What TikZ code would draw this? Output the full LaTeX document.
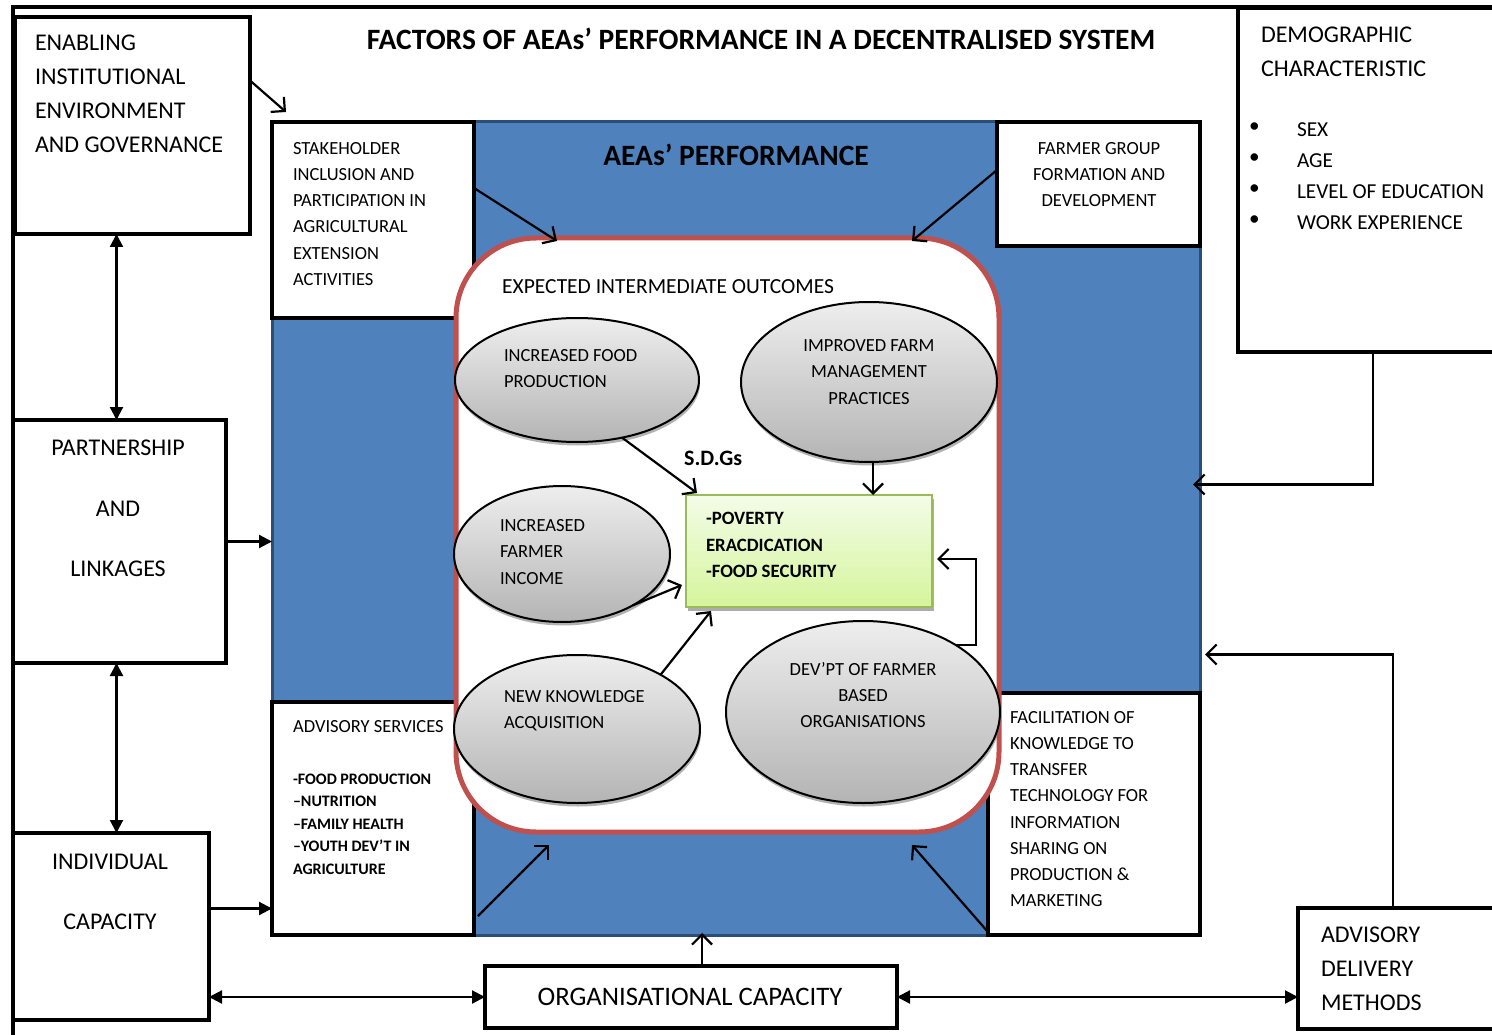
\documentclass[tikz,border=0pt]{standalone}
\usepackage{fontspec}
\setmainfont{Carlito}
\usetikzlibrary{arrows.meta,shapes.geometric,shadows}

\definecolor{blueF}{HTML}{4F81BD}
\definecolor{blueD}{HTML}{2C4D75}
\definecolor{redR}{HTML}{C0504D}
\definecolor{elTop}{HTML}{EEEEEE}
\definecolor{elBot}{HTML}{B4B4B4}
\definecolor{grTop}{HTML}{F3FCE8}
\definecolor{grBot}{HTML}{D5F59C}
\definecolor{grB}{HTML}{9BBB59}

\newcommand{\fs}[2]{\fontsize{#1}{#2}\selectfont}

\begin{document}
\begin{tikzpicture}[x=1pt,y=-1pt,
  box/.style={draw=black, line width=4.5pt, fill=white, anchor=north west, inner sep=0pt, outer sep=0pt},
  ell/.style={ellipse, draw=black, line width=2pt, top color=elTop, bottom color=elBot,
    inner sep=0pt, outer sep=0pt,
    drop shadow={shadow xshift=1pt, shadow yshift=-3.5pt, fill=black!50, opacity=0.6}},
  t/.style={anchor=north west, inner sep=0pt, outer sep=0pt, align=left},
  tc/.style={anchor=north, inner sep=0pt, outer sep=0pt, align=center},
  conn/.style={line width=2.2pt, draw=black},
  barb/.style={conn, -{Straight Barb[length=10pt,width=20pt]}},
  tri/.style={conn, -{Triangle[length=13pt,width=13pt]}},
  tri2/.style={conn, {Triangle[length=13pt,width=13pt]}-{Triangle[length=13pt,width=13pt]}},
]
\useasboundingbox (0,0) rectangle (1492,1035);
\fill[white] (0,0) rectangle (1492,1035);

% outer frame
\draw[line width=4pt] (13,1040) -- (13,7.5) -- (1500,7.5);

% title
\node[font=\fs{29.5}{32}\bfseries] (title) at (761,39)
  {FACTORS OF AEAs’ PERFORMANCE IN A DECENTRALISED SYSTEM};

% left column and bottom boxes
\node[box, minimum width=235pt, minimum height=217pt] (enab) at (15,17) {};
\node[box, minimum width=213pt, minimum height=243pt] (part) at (13,420) {};
\node[box, minimum width=196pt, minimum height=187pt] (indiv) at (13,833) {};
\node[box, minimum width=412pt, minimum height=62pt] (org) at (485,966) {};
\node[box, minimum width=260pt, minimum height=121pt] (adm) at (1298,908) {};
\node[box, minimum width=270pt, minimum height=344pt] (demo) at (1238,8) {};

% performance area
\node[fill=blueF, draw=blueD, line width=3pt, anchor=north west, inner sep=0pt, outer sep=0pt,
  minimum width=928pt, minimum height=813pt] (perf) at (272,122) {};
\node[box, minimum width=202pt, minimum height=196pt] (stake) at (272,122) {};
\node[box, minimum width=203pt, minimum height=124pt] (farm) at (997,122) {};
\node[box, minimum width=202pt, minimum height=233pt] (advs) at (272,702) {};
\node[box, minimum width=212pt, minimum height=242pt] (facil) at (988,693) {};
\node[font=\fs{29.5}{32}\bfseries] (perftitle) at (736,155) {AEAs’ PERFORMANCE};

% intermediate outcomes panel
\node[draw=redR, line width=5pt, fill=white, rounded corners=80pt, anchor=north west,
  inner sep=0pt, outer sep=0pt, minimum width=543pt, minimum height=594pt] (outc) at (456,238) {};

\node[ell, minimum width=244pt, minimum height=124pt] (ifp) at (577,380) {};
\node[ell, minimum width=256pt, minimum height=160pt] (ifm) at (869,382) {};
\node[ell, minimum width=216pt, minimum height=136pt] (inc) at (562,554) {};
\node[ell, minimum width=246pt, minimum height=148pt] (nka) at (577,729) {};
\node[ell, minimum width=274pt, minimum height=182pt] (dfbo) at (863,712) {};

\node[draw=grB, line width=2.5pt, top color=grTop, bottom color=grBot, anchor=north west,
  inner sep=0pt, outer sep=0pt, minimum width=246pt, minimum height=112pt,
  drop shadow={shadow xshift=1.5pt, shadow yshift=-4pt, fill=black!40, opacity=0.8}] (green) at (686,495) {};

% texts
\node[t, font=\fs{24}{34}] (enabT) at (35,35.4)
  {ENABLING\\INSTITUTIONAL\\ENVIRONMENT\\AND GOVERNANCE};
\node[t, font=\fs{24}{34}] (demoT) at (1261,27.4) {DEMOGRAPHIC\\CHARACTERISTIC};
\node[t, font=\fs{21.3}{31}] (demoB) at (1249,122.3) {•\\•\\•\\•};
\node[t, font=\fs{21.3}{31}] (demoL) at (1297,122.3) {SEX\\AGE\\LEVEL OF EDUCATION\\WORK EXPERIENCE};
\node[t, font=\fs{18.5}{26.2}] (stakeT) at (293,142.2)
  {STAKEHOLDER\\INCLUSION AND\\PARTICIPATION IN\\AGRICULTURAL\\EXTENSION\\ACTIVITIES};
\node[tc, font=\fs{18.5}{26}] (farmT) at (1099,142.2)
  {FARMER GROUP\\FORMATION AND\\DEVELOPMENT};
\node[anchor=west, inner sep=0pt, font=\fs{21.5}{26}] (outcT) at (502,287) {EXPECTED INTERMEDIATE OUTCOMES};
\node[t, font=\fs{18.5}{26}] (ifpT) at (504,349.2) {INCREASED FOOD\\PRODUCTION};
\node[tc, font=\fs{18.5}{26.5}] (ifmT) at (869,339.2) {IMPROVED FARM\\MANAGEMENT\\PRACTICES};
\node[anchor=west, inner sep=0pt, font=\fs{22}{24}\bfseries] (sdg) at (684,458) {S.D.Gs};
\node[t, font=\fs{18.8}{26.5}\bfseries] (greenT) at (706,512.2) {-POVERTY\\ERACDICATION\\-FOOD SECURITY};
\node[t, font=\fs{18.5}{26.5}] (incT) at (500,519.2) {INCREASED\\FARMER\\INCOME};
\node[t, font=\fs{18.5}{26}] (nkaT) at (504,690.2) {NEW KNOWLEDGE\\ACQUISITION};
\node[tc, font=\fs{18.5}{26}] (dfboT) at (863,662.2) {DEV’PT OF FARMER\\BASED\\ORGANISATIONS};
\node[anchor=west, inner sep=0pt, font=\fs{18.5}{26}] (advsT) at (293,727) {ADVISORY SERVICES};
\node[t, font=\fs{16}{22.5}\bfseries] (advsL) at (293,774)
  {-FOOD PRODUCTION\\–NUTRITION\\–FAMILY HEALTH\\–YOUTH DEV’T IN\\AGRICULTURE};
\node[t, font=\fs{18.5}{26.2}] (facilT) at (1010,711.2)
  {FACILITATION OF\\KNOWLEDGE TO\\TRANSFER\\TECHNOLOGY FOR\\INFORMATION\\SHARING ON\\PRODUCTION \&\\MARKETING};
\node[tc, font=\fs{24}{60.5}] (partT) at (118,440.4) {PARTNERSHIP\\AND\\LINKAGES};
\node[tc, font=\fs{24}{60}] (indivT) at (110,854.4) {INDIVIDUAL\\CAPACITY};
\node[font=\fs{26.7}{30}, inner sep=0pt] (orgT) at (690,997) {ORGANISATIONAL CAPACITY};
\node[t, font=\fs{24}{34}] (admT) at (1321,927.4) {ADVISORY\\DELIVERY\\METHODS};

% helper points on the boxes
\coordinate (pn) at ([xshift=-3pt]part.north);
\coordinate (ps) at ([xshift=-3pt]part.south);
\coordinate (indo) at ([yshift=18pt]indiv.east);
\coordinate (orgtop) at ([xshift=11pt]org.north);
\coordinate (demoin) at ([xshift=-7pt,yshift=44pt]perf.east);
\coordinate (admtop) at ([xshift=95pt]adm.north west);
\coordinate (admin) at ([xshift=5pt,yshift=-126pt]perf.east);
\coordinate (gin) at ([xshift=5pt,yshift=-8pt]green.east);

% connectors around the performance area
\draw[barb] ([yshift=45pt]enab.east) -- ([xshift=14pt,yshift=10pt]stake.north west);
\draw[barb] ([yshift=32pt]stake.east) -- ([xshift=101pt,yshift=-3pt]outc.north west);
\draw[barb] ([yshift=14pt]farm.west) -- ([xshift=-87pt,yshift=-3pt]outc.north east);
\draw[barb] ([xshift=4pt,yshift=19pt]advs.south east) -- ([xshift=93pt,yshift=-13pt]outc.south west);
\draw[barb] ([yshift=3pt]facil.south west) -- ([xshift=-87pt,yshift=-13pt]outc.south east);
\draw[barb] (orgtop) -- ([yshift=2pt]orgtop |- perf.south);
\draw[barb] (demo.south) |- (demoin);
\draw[barb] (admtop) |- (admin);
\draw[tri] (part.east) -- (part.east -| perf.west);
\draw[tri] (indo) -- (indo -| advs.west);
\draw[tri2] (pn |- enab.south) -- (pn);
\draw[tri2] (ps) -- (ps |- indiv.north);
\draw[tri2] (org.west -| indiv.east) -- (org.west);
\draw[tri2] (org.east) -- (org.east -| adm.west);

% connectors inside the outcomes panel
\draw[barb] (ifp.-52) -- ([xshift=11pt,yshift=2pt]green.north west);
\draw[barb] ([xshift=4pt]ifm.south) -- ([xshift=4pt]ifm.south |- green.north);
\draw[barb] (inc.-36) -- ([xshift=-4pt,yshift=22pt]green.south west);
\draw[barb] (nka.33) -- ([xshift=25pt,yshift=-4pt]green.south west);
\draw[barb] (dfbo.36) -| ([xshift=39pt]gin) -- (gin);
\end{tikzpicture}
\end{document}
